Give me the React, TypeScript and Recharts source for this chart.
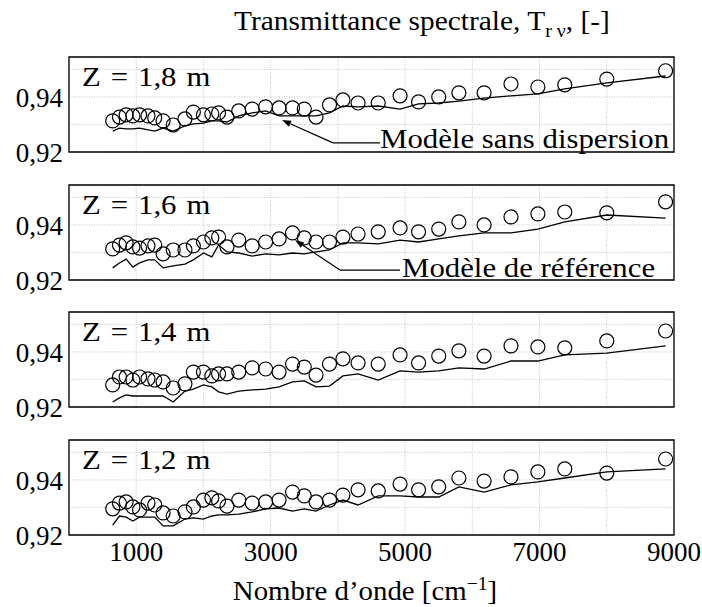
import {
  ComposedChart,
  Line,
  XAxis,
  YAxis,
  CartesianGrid,
  ReferenceArea,
  ReferenceLine,
} from "recharts";

// shared wavenumbers of the measured bands [cm-1]
const waveNumbers = [
  650, 750, 850, 950, 1050, 1175, 1275, 1400, 1550, 1725, 1850, 2000, 2125, 2225, 2350, 2525, 2725, 2925,
  3125, 3325, 3500, 3675, 3875, 4075, 4300, 4600, 4925, 5200, 5500, 5800, 6175, 6575, 6975, 7375, 8000, 8875,
];

// Z = 1,8 m
const meas18 = [
  0.9313, 0.9327, 0.9335, 0.9331, 0.9335, 0.9331, 0.9324, 0.9313, 0.9298, 0.932, 0.9345, 0.9335, 0.9338, 0.9342,
  0.9327, 0.9349, 0.9356, 0.9364, 0.936, 0.936, 0.9356, 0.9327, 0.9371, 0.9389, 0.9378, 0.9378, 0.9404, 0.9382,
  0.94, 0.9415, 0.9415, 0.9447, 0.9436, 0.9444, 0.9465, 0.9495,
];
const model18 = [
  0.9276, 0.9287, 0.9284, 0.9284, 0.9287, 0.928, 0.9276, 0.9287, 0.9276, 0.9295, 0.9302, 0.9305, 0.9313, 0.9313,
  0.9309, 0.9331, 0.9342, 0.9349, 0.9331, 0.9331, 0.9331, 0.9331, 0.9342, 0.9367, 0.9364, 0.9367, 0.9356, 0.9375,
  0.9378, 0.9385, 0.9396, 0.9404, 0.9411, 0.9429, 0.9451, 0.9476,
];

// Z = 1,6 m
const meas16 = [
  0.9313, 0.9327, 0.9335, 0.932, 0.9316, 0.9324, 0.9327, 0.9295, 0.9309, 0.9309, 0.9324, 0.9338, 0.9353, 0.9356,
  0.932, 0.9345, 0.9324, 0.9338, 0.9349, 0.9371, 0.9353, 0.9338, 0.9338, 0.9356, 0.9367, 0.9375, 0.9389, 0.9375,
  0.9385, 0.9411, 0.94, 0.9429, 0.944, 0.9447, 0.9444, 0.9484,
];
const model16 = [
  0.9244, 0.9262, 0.9276, 0.9247, 0.9262, 0.9273, 0.9273, 0.9244, 0.9251, 0.9258, 0.9273, 0.9298, 0.9284, 0.9327,
  0.9302, 0.9298, 0.9287, 0.9295, 0.9291, 0.9298, 0.9295, 0.9302, 0.9309, 0.9335, 0.9335, 0.9331, 0.9345, 0.9338,
  0.9349, 0.936, 0.9371, 0.9371, 0.9385, 0.9411, 0.9436, 0.9425,
];

// Z = 1,4 m
const meas14 = [
  0.928, 0.9309, 0.9309, 0.9298, 0.9309, 0.9302, 0.9298, 0.9291, 0.9269, 0.9284, 0.9327, 0.9327, 0.9313, 0.932,
  0.932, 0.9327, 0.9342, 0.9338, 0.9327, 0.9356, 0.9345, 0.9316, 0.9356, 0.9375, 0.936, 0.9356, 0.9389, 0.936,
  0.9385, 0.9404, 0.9385, 0.9422, 0.9418, 0.9415, 0.944, 0.9476,
];
const model14 = [
  0.9218, 0.9233, 0.9244, 0.924, 0.924, 0.924, 0.924, 0.924, 0.9218, 0.9258, 0.9265, 0.928, 0.9273, 0.9255, 0.9247,
  0.9258, 0.9262, 0.9265, 0.9273, 0.9291, 0.9295, 0.9273, 0.9276, 0.9313, 0.932, 0.9298, 0.9331, 0.9327, 0.9331,
  0.9342, 0.9338, 0.9367, 0.9367, 0.9389, 0.9396, 0.9422,
];

// Z = 1,2 m
const meas12 = [
  0.9295, 0.9316, 0.932, 0.9302, 0.9291, 0.9316, 0.9309, 0.928, 0.9269, 0.9284, 0.9302, 0.9327, 0.9335, 0.9324,
  0.9305, 0.9327, 0.9316, 0.932, 0.9327, 0.9356, 0.9342, 0.932, 0.9327, 0.9345, 0.9364, 0.936, 0.9385, 0.9364,
  0.9375, 0.9407, 0.9396, 0.9411, 0.9429, 0.944, 0.9425, 0.9476,
];
const model12 = [
  0.9236, 0.9269, 0.9265, 0.9251, 0.9265, 0.9265, 0.9265, 0.9233, 0.9233, 0.9258, 0.9262, 0.9258, 0.9269, 0.9273,
  0.9273, 0.9276, 0.9284, 0.9295, 0.9298, 0.9287, 0.9295, 0.9287, 0.9309, 0.9327, 0.9309, 0.9342, 0.9342, 0.9338,
  0.9338, 0.9375, 0.9356, 0.9382, 0.9393, 0.9407, 0.9429, 0.944,
];

const xTicks = [1000, 2000, 3000, 4000, 5000, 6000, 7000, 8000, 9000];
const xLabelled = [1000, 3000, 5000, 7000, 9000];
const yTicks = [0.92, 0.93, 0.94, 0.95];
const yLabelled = ["0,92", "", "0,94", ""];
const X_DOMAIN: [number, number] = [0, 9000];
const Y_DOMAIN: [number, number] = [0.92, 0.9545];

const FONT = '"Liberation Serif", "DejaVu Serif", serif';
const FS = 27;
const PLOT_H = 95;
const PAD = 10;
const PAD_BOTTOM = 24;

const rowsOf = (meas: number[], model: number[]) =>
  waveNumbers.map((x, i) => ({ x, meas: meas[i], model: model[i] }));

// annotation arrows: text end -> elbow -> tip
type Pt = { x: number; y: number };
const arrowSansDispersion: Pt[] = [
  { x: 4626, y: 0.9233 },
  { x: 3927, y: 0.9233 },
  { x: 3169, y: 0.9316 },
];
const arrowReference: Pt[] = [
  { x: 4924, y: 0.9236 },
  { x: 4031, y: 0.9236 },
  { x: 3362, y: 0.9345 },
];

function ArrowHead(props: any) {
  const { x1, y1, x2, y2 } = props;
  const a = Math.atan2(y2 - y1, x2 - x1);
  const L = 9;
  const W = 3.2;
  const bx = x2 - L * Math.cos(a);
  const by = y2 - L * Math.sin(a);
  const pts = `${x2},${y2} ${bx + W * Math.sin(a)},${by - W * Math.cos(a)} ${bx - W * Math.sin(a)},${by + W * Math.cos(a)}`;
  return (
    <g>
      <line x1={x1} y1={y1} x2={bx} y2={by} stroke="#000" strokeWidth={1.2} />
      <polygon points={pts} fill="#000" />
    </g>
  );
}

interface PanelProps {
  rows: { x: number; meas: number; model: number }[];
  top: number;
  showAxis?: boolean;
  arrow?: Pt[];
}

function Panel({ rows, top, showAxis, arrow }: PanelProps) {
  const bottom = showAxis ? 0 : PAD_BOTTOM;
  const axisH = showAxis ? 50 : 0;
  const h = PAD + PLOT_H + bottom + axisH;
  return (
    <div style={{ position: "absolute", left: 0, top: top - PAD, width: 702, height: h }}>
      <ComposedChart
        width={702}
        height={h}
        data={rows}
        margin={{ top: PAD, right: 28, bottom, left: 0 }}
      >
        <CartesianGrid stroke="#b4b4b4" strokeDasharray="1 1.5" strokeWidth={0.8} />
        <XAxis
          type="number"
          dataKey="x"
          domain={X_DOMAIN}
          ticks={xTicks}
          interval={0}
          hide={!showAxis}
          height={axisH}
          axisLine={false}
          tickLine={false}
          tickSize={0}
          tickMargin={7}
          tick={{ fill: "#000", fontSize: FS, fontFamily: FONT }}
          tickFormatter={(v: number) => (xLabelled.includes(v) ? String(v) : "")}
        />
        <YAxis
          type="number"
          domain={Y_DOMAIN}
          ticks={yTicks}
          interval={0}
          width={69}
          axisLine={false}
          tickLine={false}
          tickSize={0}
          tickMargin={6}
          tick={{ fill: "#000", fontSize: FS, fontFamily: FONT }}
          tickFormatter={(v: number) => yLabelled[yTicks.findIndex((t) => Math.abs(t - v) < 1e-6)] ?? ""}
        />
        <Line
          type="linear"
          dataKey="model"
          stroke="#000"
          strokeWidth={1.3}
          dot={false}
          activeDot={false}
          isAnimationActive={false}
        />
        <Line
          type="linear"
          dataKey="meas"
          stroke="none"
          dot={{ r: 7, fill: "none", stroke: "#000", strokeWidth: 1.2 }}
          activeDot={false}
          isAnimationActive={false}
        />
        {arrow && (
          <ReferenceLine
            segment={[arrow[0], arrow[1]]}
            stroke="#000"
            strokeWidth={1.2}
          />
        )}
        {arrow && <ReferenceLine segment={[arrow[1], arrow[2]]} shape={ArrowHead} />}
        <ReferenceArea
          x1={X_DOMAIN[0]}
          x2={X_DOMAIN[1]}
          y1={Y_DOMAIN[0]}
          y2={Y_DOMAIN[1]}
          fill="none"
          fillOpacity={0}
          stroke="#000"
          strokeWidth={1.3}
          strokeOpacity={1}
        />
      </ComposedChart>
    </div>
  );
}

const textStyle = {
  position: "absolute" as const,
  fontFamily: FONT,
  fontSize: 28,
  lineHeight: 1,
  color: "#000",
  whiteSpace: "nowrap" as const,
};

const wide = { transform: "scaleX(1.1)", transformOrigin: "left center" };

const panels = [
  { label: "Z = 1,8 m", top: 57, rows: rowsOf(meas18, model18), arrow: arrowSansDispersion },
  { label: "Z = 1,6 m", top: 185, rows: rowsOf(meas16, model16), arrow: arrowReference },
  { label: "Z = 1,4 m", top: 312, rows: rowsOf(meas14, model14) },
  { label: "Z = 1,2 m", top: 440, rows: rowsOf(meas12, model12) },
];

export default function App() {
  return (
    <div style={{ position: "absolute", left: 0, top: 0, width: 702, height: 607, background: "#fff" }}>
      {panels.map((p, i) => (
        <Panel key={p.label} rows={p.rows} top={p.top} arrow={p.arrow} showAxis={i === panels.length - 1} />
      ))}
      {panels.map((p) => (
        <div key={p.label + "-t"} style={{ ...textStyle, ...wide, wordSpacing: 2, left: 82, top: p.top + 6 }}>
          {p.label}
        </div>
      ))}
      <div style={{ ...textStyle, ...wide, left: 380, top: 125 }}>Modèle sans dispersion</div>
      <div style={{ ...textStyle, ...wide, left: 402, top: 254 }}>Modèle de référence</div>
      <div
        style={{
          ...textStyle,
          left: 222,
          width: 400,
          textAlign: "center",
          top: 7,
          transform: "scaleX(1.05)",
        }}
      >
        Transmittance spectrale, T
        <sub style={{ fontSize: 19 }}>r&nbsp;ν</sub>, [-]
      </div>
      <div
        style={{
          ...textStyle,
          left: 165,
          width: 400,
          textAlign: "center",
          top: 574,
          transform: "scaleX(1.03)",
        }}
      >
        Nombre d’onde [cm<sup style={{ fontSize: 19 }}>−1</sup>]
      </div>
    </div>
  );
}
